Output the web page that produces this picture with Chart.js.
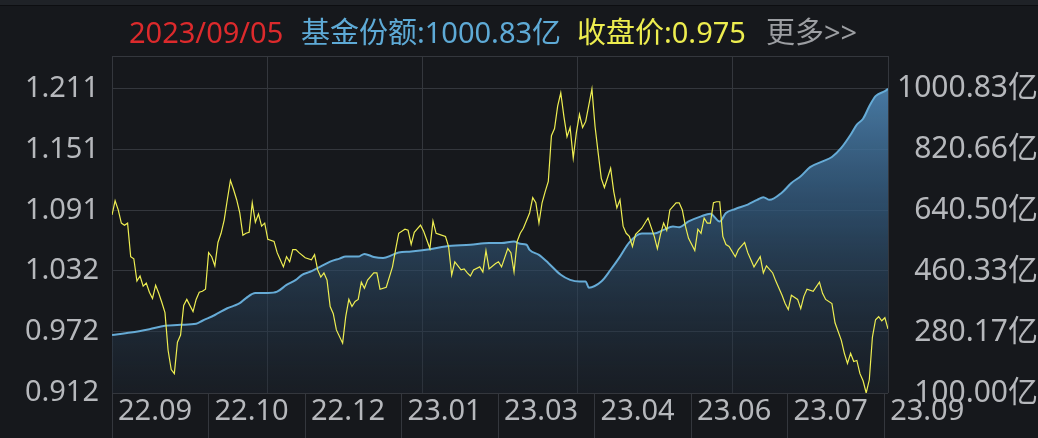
<!DOCTYPE html>
<html>
<head>
<meta charset="utf-8">
<script src="https://cdn.jsdelivr.net/npm/chart.js@4.4.1/dist/chart.umd.min.js"></script>
<style>
    html, body { margin: 0; padding: 0; background: #16181c; }
    #wrap { position: relative; width: 1038px; height: 438px; overflow: hidden; background: #16181c; }
    #topbar { position: absolute; left: 0; top: 0; width: 1038px; height: 5px; background: #1f2227; border-bottom: 1px solid #0d0e11; }
    .hd { position: absolute; top: 13px; font-size: 29px; line-height: 37px; white-space: nowrap;
          font-family: "Noto Sans", "Noto Sans CJK SC", sans-serif; }
    canvas { position: absolute; left: 0; top: 0; }
</style>
</head>
<body>
<div id="wrap">
    <div id="topbar"></div>
    <canvas id="fundChart" width="1038" height="438"></canvas>
    <span class="hd" style="left:129px;color:#dc2a2c;">2023/09/05</span>
    <span class="hd" style="left:301px;color:#5eaad6;">基金份额:1000.83亿</span>
    <span class="hd" style="left:577px;color:#eded4f;">收盘价:0.975</span>
    <span class="hd" style="left:766px;color:#9c9ea2;">更多&gt;&gt;</span>
</div>
<script>
// ==========================
// Dữ liệu
// ==========================
const dayCount = 250; // số phiên giao dịch trên trục x

const dateLabels = ['22.09', '22.10', '22.12', '23.01', '23.03', '23.04', '23.06', '23.07', '23.09'];

const priceTicks = [0.912, 0.972, 1.032, 1.091, 1.151, 1.211];
const shareTicks = [100.00, 280.17, 460.33, 640.50, 820.66, 1000.83];

// Giá đóng cửa (phiên, giá)
const priceDays = [
    0, 1, 2, 3, 4, 5, 6, 7, 8, 9, 10, 11, 12, 13, 14, 15, 16, 17, 18, 19, 20, 21, 22, 23, 24, 26, 27, 28, 29, 30,
    31, 32, 33, 34, 35, 36, 37, 38, 39, 40, 41, 42, 43, 44, 45, 46, 47, 48, 49, 50, 52, 53, 54, 55, 56, 57, 58, 59, 60, 62,
    64, 65, 66, 67, 68, 69, 70, 71, 72, 74, 75, 76, 77, 78, 79, 80, 81, 82, 84, 85, 86, 88, 90, 91, 92, 94, 95, 96, 97, 99,
    100, 102, 103, 104, 105, 107, 108, 109, 110, 112, 113, 114, 115, 116, 118, 119, 120, 121, 123, 124, 125, 127, 128, 129, 130, 131, 132, 134, 135, 136,
    137, 138, 139, 140, 141, 142, 143, 144, 145, 146, 147, 148, 149, 150, 151, 152, 154, 155, 156, 157, 158, 160, 161, 162, 163, 164, 165, 166, 167, 168,
    170, 172, 174, 175, 176, 177, 178, 179, 181, 182, 183, 184, 185, 187, 188, 189, 190, 191, 192, 193, 194, 195, 196, 197, 198, 200, 201, 203, 204, 205,
    206, 208, 209, 210, 212, 213, 215, 216, 217, 218, 220, 221, 222, 223, 225, 227, 228, 229, 231, 232, 234, 235, 236, 237, 238, 239, 240, 241, 242, 243,
    244, 245, 246, 247, 248, 249
];
const priceValues = [
    1.087, 1.101, 1.092, 1.079, 1.077, 1.079, 1.046, 1.044, 1.022, 1.027, 1.017, 1.020, 1.011, 1.005, 1.018, 1.010, 1.001, 0.991, 0.954, 0.935, 0.931, 0.962, 0.969, 0.998, 1.004, 0.992, 1.004, 1.011, 1.012, 1.014,
    1.050, 1.046, 1.037, 1.060, 1.069, 1.082, 1.102, 1.121, 1.112, 1.102, 1.089, 1.067, 1.069, 1.070, 1.099, 1.080, 1.088, 1.076, 1.079, 1.063, 1.061, 1.050, 1.043, 1.036, 1.046, 1.041, 1.053, 1.053, 1.050, 1.045,
    1.043, 1.048, 1.033, 1.026, 1.030, 1.023, 0.997, 0.990, 0.974, 0.961, 0.987, 1.004, 0.997, 1.002, 1.004, 1.021, 1.015, 1.023, 1.030, 1.030, 1.014, 1.016, 1.036, 1.053, 1.069, 1.073, 1.072, 1.058, 1.070, 1.077,
    1.071, 1.054, 1.081, 1.069, 1.068, 1.066, 1.056, 1.028, 1.041, 1.033, 1.034, 1.030, 1.027, 1.033, 1.036, 1.031, 1.052, 1.034, 1.039, 1.041, 1.036, 1.054, 1.050, 1.031, 1.061, 1.069, 1.074, 1.089, 1.104, 1.099,
    1.079, 1.099, 1.110, 1.120, 1.165, 1.172, 1.194, 1.207, 1.184, 1.164, 1.173, 1.143, 1.168, 1.186, 1.173, 1.179, 1.211, 1.174, 1.148, 1.123, 1.114, 1.133, 1.110, 1.094, 1.102, 1.076, 1.069, 1.066, 1.056, 1.068,
    1.074, 1.084, 1.066, 1.054, 1.068, 1.079, 1.072, 1.092, 1.099, 1.099, 1.092, 1.076, 1.064, 1.052, 1.073, 1.069, 1.084, 1.079, 1.079, 1.099, 1.100, 1.100, 1.066, 1.058, 1.056, 1.046, 1.053, 1.060, 1.050, 1.043,
    1.036, 1.046, 1.030, 1.037, 1.030, 1.022, 1.008, 1.000, 0.994, 1.008, 1.004, 0.995, 1.007, 1.014, 1.012, 1.021, 1.010, 1.004, 1.000, 0.981, 0.964, 0.951, 0.941, 0.951, 0.943, 0.944, 0.931, 0.924, 0.912, 0.925,
    0.967, 0.984, 0.987, 0.983, 0.986, 0.975
];

// Quy mô quỹ (phiên, 亿 đơn vị)
const shareDays = [
    0, 6, 12, 17, 22, 27, 29, 33, 37, 39, 41, 43, 46, 50, 53, 56, 59, 61, 63, 67, 70, 73, 75, 79, 81, 84, 87, 90, 92, 96,
    102, 107, 115, 121, 125, 129, 131, 133, 134, 137, 140, 144, 147, 150, 152, 153, 157, 160, 163, 166, 170, 174, 177, 180, 182, 185, 189, 192, 195, 197,
    200, 204, 207, 209, 211, 215, 218, 221, 224, 228, 231, 234, 237, 239, 241, 243, 245, 248, 249
];
const shareValues = [
    272, 279, 289, 299, 302, 305, 314, 331, 351, 358, 366, 381, 396, 396, 400, 420, 435, 450, 457, 475, 489, 498, 504, 504, 512, 503, 500, 509, 516, 519,
    526, 534, 539, 544, 544, 549, 542, 539, 524, 509, 485, 450, 435, 430, 430, 412, 430, 465, 504, 546, 572, 572, 583, 593, 591, 608, 623, 631, 608, 633,
    645, 658, 672, 680, 672, 694, 722, 742, 769, 786, 799, 826, 865, 895, 912, 949, 979, 994, 1000.83
];

// ==========================
// Cấu hình chung
// ==========================
const gridColor = '#34373d';
const labelColor = '#b6b8bc';
const labelFont = { family: '"Noto Sans", "Noto Sans CJK SC", sans-serif', size: 29 };
const rightFont = { family: '"Noto Sans", "Noto Sans CJK SC", sans-serif', size: 30 };

function shareFill(context) {
    const area = context.chart.chartArea;
    if (!area) return 'rgba(60,110,155,0.5)';
    const g = context.chart.ctx.createLinearGradient(0, area.top, 0, area.bottom);
    g.addColorStop(0, 'rgba(84,142,190,0.95)');
    g.addColorStop(0.45, 'rgba(52,92,128,0.75)');
    g.addColorStop(1, 'rgba(30,40,52,0.35)');
    return g;
}

// ==========================
// Vẽ biểu đồ
// ==========================
const ctx = document.getElementById('fundChart').getContext('2d');
new Chart(ctx, {
    type: 'line',
    data: {
        datasets: [{
            label: '收盘价',
            data: priceDays.map((d, i) => ({ x: d, y: priceValues[i] })),
            yAxisID: 'yPrice',
            borderColor: '#eeee52',
            borderWidth: 1.2,
            pointRadius: 0,
            tension: 0,
            fill: false
        }, {
            label: '基金份额',
            data: shareDays.map((d, i) => ({ x: d, y: shareValues[i] })),
            yAxisID: 'yShare',
            borderColor: '#66abd6',
            borderWidth: 2,
            pointRadius: 0,
            cubicInterpolationMode: 'monotone',
            fill: 'start',
            backgroundColor: shareFill
        }]
    },
    options: {
        responsive: false,
        animation: false,
        layout: { padding: { top: 56, left: 0, right: 0, bottom: 0 } },
        plugins: { legend: { display: false }, tooltip: { enabled: false } },
        scales: {
            x: {
                type: 'linear',
                position: 'bottom',
                min: 0,
                max: dayCount - 1,
                afterBuildTicks: s => { s.ticks = [0, 1, 2, 3, 4, 5].map(k => ({ value: k * (dayCount - 1) / 5 })); },
                ticks: { display: false },
                grid: { color: gridColor, drawTicks: false },
                border: { display: false },
                afterFit: s => { s.height = 0; }
            },
            xLabel: {
                type: 'linear',
                position: 'bottom',
                min: 0,
                max: 8.04,
                afterBuildTicks: s => { s.ticks = dateLabels.map((_, i) => ({ value: i })); },
                ticks: {
                    color: labelColor,
                    font: labelFont,
                    align: 'start',
                    labelOffset: 6,
                    padding: -44,
                    maxRotation: 0,
                    autoSkip: false,
                    callback: (v, i) => dateLabels[i]
                },
                grid: { color: gridColor, drawOnChartArea: false, drawTicks: true, tickLength: 45 },
                border: { display: false },
                afterFit: s => { s.height = 45; }
            },
            yPrice: {
                position: 'left',
                min: 0.912,
                max: 1.2433,
                afterBuildTicks: s => { s.ticks = priceTicks.map(v => ({ value: v })).concat([{ value: 1.2433 }]); },
                ticks: {
                    color: labelColor,
                    font: labelFont,
                    padding: 13,
                    callback: (v, i) => i < priceTicks.length ? priceTicks[i].toFixed(3) : ''
                },
                grid: { color: gridColor, drawTicks: false },
                border: { display: false },
                afterFit: s => { s.width = 112; }
            },
            yShare: {
                position: 'right',
                min: 100,
                max: 1098,
                afterBuildTicks: s => { s.ticks = shareTicks.map(v => ({ value: v })); },
                ticks: {
                    color: labelColor,
                    font: rightFont,
                    padding: 4,
                    crossAlign: 'far',
                    callback: (v, i) => shareTicks[i].toFixed(2) + '亿'
                },
                grid: { drawOnChartArea: false, drawTicks: false },
                border: { display: false },
                afterFit: s => { s.width = 150; }
            }
        }
    }
});
</script>
</body>
</html>
